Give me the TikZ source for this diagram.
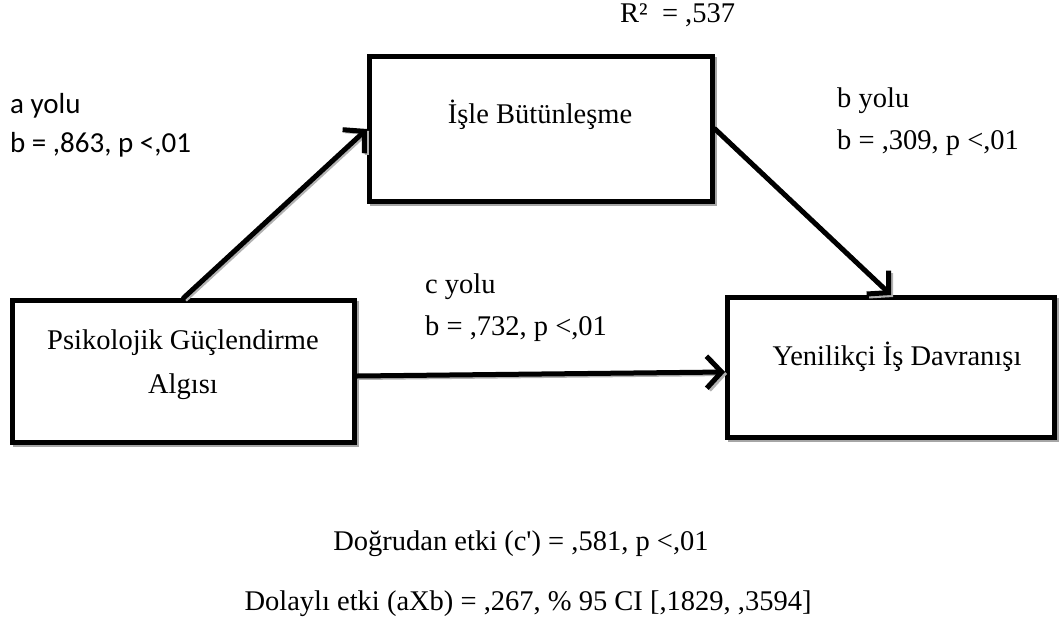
\documentclass[tikz,border=0pt]{standalone}
\usepackage{fontspec}
\setmainfont{Liberation Serif}
\newfontfamily\calib{Carlito}
\usetikzlibrary{arrows.meta}
\tikzset{
  boxnode/.style={draw=black, line width=5pt, fill=white, inner sep=0pt,
    preaction={draw=black!35, line width=4pt, transform canvas={shift={(2pt,-2pt)}}}},
  serif/.style={font=\fontsize{28.5}{44}\selectfont, inner sep=0pt},
  sans/.style={font=\calib\fontsize{29}{40}\selectfont, inner sep=0pt},
  pathline/.style={line width=5pt, line cap=round,
    -{Straight Barb[length=15pt,width=32pt,line width=5pt]},
    preaction={draw=black!30, line width=4pt, transform canvas={shift={(2pt,-2pt)}},
      -{Straight Barb[length=15pt,width=32pt,line width=4pt]}}}
}
\begin{document}
\begin{tikzpicture}[x=1pt,y=-1pt]
\useasboundingbox[fill=white] (0,0) rectangle (1060,627);
% boxes
\node[boxnode, minimum width=343pt, minimum height=145pt] (M) at (541,129) {};
\node[boxnode, minimum width=342pt, minimum height=142pt] (X) at (183.5,371.5) {};
\node[boxnode, minimum width=327pt, minimum height=140pt] (Y) at (891,367.5) {};
% box texts
\node[serif, anchor=base] (Mt) at (540,123) {İşle Bütünleşme};
\node[serif, anchor=base] (Xt1) at (183,349) {Psikolojik Güçlendirme};
\node[serif, anchor=base] (Xt2) at (183,393) {Algısı};
\node[serif, anchor=base] (Yt) at (897,365) {Yenilikçi İş Davranışı};
% connectors
\draw[pathline] (X.north) -- (M.west);
\draw[pathline] (M.east) -- (Y.north);
\draw[pathline] ([yshift=-4.5pt]X.east) -- ([yshift=-4.5pt]Y.west);
% labels
\node[serif, anchor=base west] (R2) at (620,22) {R²\ \ = ,537};
\node[sans, anchor=base west] (a1) at (10,113) {a yolu};
\node[sans, anchor=base west] (a2) at (10,152) {b = ,863, p <,01};
\node[serif, anchor=base west] (b1) at (837,107) {b yolu};
\node[serif, anchor=base west] (b2) at (837,149) {b = ,309, p <,01};
\node[serif, anchor=base west] (c1) at (425,293) {c yolu};
\node[serif, anchor=base west] (c2) at (425,335) {b = ,732, p <,01};
\node[serif, anchor=base] (d1) at (521,550) {Doğrudan etki (c\textquotesingle) = ,581, p <,01};
\node[serif, anchor=base] (d2) at (528,610) {Dolaylı etki (aXb) = ,267, \% 95 CI [,1829, ,3594]};
\end{tikzpicture}
\end{document}
